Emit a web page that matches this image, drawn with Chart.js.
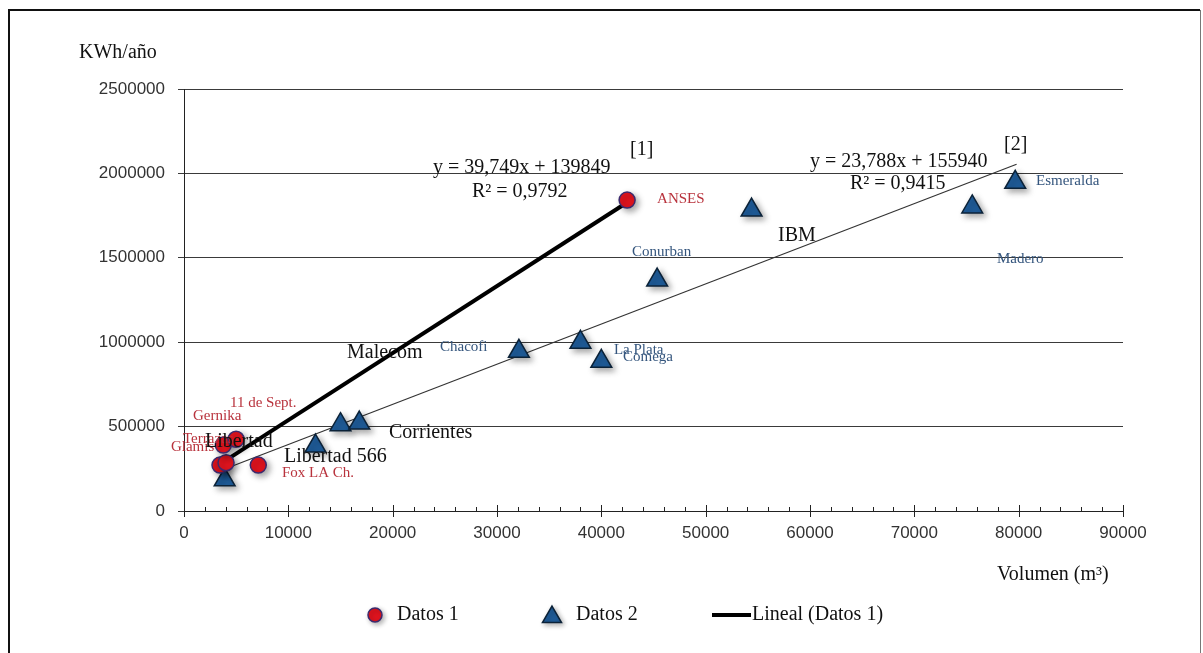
<!DOCTYPE html>
<html>
<head>
<meta charset="utf-8">
<title>KWh/año vs Volumen</title>
<script src="https://cdn.jsdelivr.net/npm/chart.js@4/dist/chart.umd.min.js"></script>
<style>
    body { margin: 0; background: #fff; }
    canvas { display: block; }
</style>
</head>
<body>
<canvas id="myChart" width="1203" height="653"></canvas>
<script>
// datos 1 (circles) and datos 2 (triangles)
const datos1X = [3450, 4030, 3770, 4990, 7120, 42470];
const datos1Y = [272000, 286000, 391000, 425000, 272000, 1842000];

const datos2X = [3900, 12600, 15000, 16800, 32100, 38000, 40000, 45350, 54400, 75550, 79670];
const datos2Y = [185000, 385000, 511000, 521000, 946000, 999000, 887000, 1368000, 1783000, 1801000, 1947000];

// ends of the two trend lines
const lineal1X = [3400, 42500];
const lineal1Y = [276000, 1829000];
const lineal2X = [3900, 79800];
const lineal2Y = [249000, 2054000];

const xTicks = [0, 10000, 20000, 30000, 40000, 50000, 60000, 70000, 80000, 90000];
const yTicks = [0, 500000, 1000000, 1500000, 2000000, 2500000];

// text labels: [text, x, y] in data units
const blackLabels = [
    ["Libertad", 2010, 411000],
    ["Libertad 566", 9580, 323000],
    ["Corrientes", 19650, 465000],
    ["Malecom", 15620, 939000],
    ["IBM", 56930, 1631000],
    ["y = 39,749x + 139849", 23870, 2034000],
    ["R² = 0,9792", 27600, 1892000],
    ["[1]", 42750, 2141000],
    ["y = 23,788x + 155940", 60000, 2069000],
    ["R² = 0,9415", 63830, 1939000],
    ["[2]", 78600, 2170000],
];
const redLabels = [
    ["11 de Sept.", 4410, 642000],
    ["Gernika", 860, 560000],
    ["Terrazas", -100, 429000],
    ["Glamis", -1250, 376000],
    ["Fox LA Ch.", 9390, 222000],
    ["ANSES", 45340, 1850000],
];
const blueLabels = [
    ["Chacofi", 24540, 974000],
    ["La Plata", 41210, 956000],
    ["Comega", 42080, 909000],
    ["Conurban", 42940, 1536000],
    ["Madero", 77920, 1495000],
    ["Esmeralda", 81660, 1957000],
];

const toPoints = (xs, ys) => xs.map((x, i) => ({ x: x, y: ys[i] }));

const serif = "'Liberation Serif', 'Times New Roman', serif";
const sans = "'Liberation Sans', Arial, sans-serif";

const circleFill = "#e0141e";
const circleEdge = "#3b2a6e";
const triFill = "#1f5c99";
const triEdge = "#0b2238";

// drop shadow under the markers only
const shadowPlugin = {
    id: "markerShadow",
    beforeDatasetDraw(chart, args) {
        const ds = chart.data.datasets[args.index];
        if (!ds.shadow) return;
        const ctx = chart.ctx;
        ctx.save();
        ctx.shadowColor = "rgba(0,0,0,0.35)";
        ctx.shadowBlur = 6;
        ctx.shadowOffsetX = 3;
        ctx.shadowOffsetY = 3;
    },
    afterDatasetDraw(chart, args) {
        const ds = chart.data.datasets[args.index];
        if (!ds.shadow) return;
        chart.ctx.restore();
    },
};

const drawTriangle = (ctx, cx, cy, r) => {
    ctx.beginPath();
    for (let k = 0; k < 3; k++) {
        const a = (k * 2 * Math.PI) / 3;
        const px = cx + Math.sin(a) * r;
        const py = cy - Math.cos(a) * r;
        if (k == 0) ctx.moveTo(px, py);
        else ctx.lineTo(px, py);
    }
    ctx.closePath();
};

// x axis tick marks, labels, titles, legend and the frame
const extrasPlugin = {
    id: "extras",
    beforeDraw(chart) {
        const ctx = chart.ctx;
        ctx.save();
        ctx.fillStyle = "#fff";
        ctx.fillRect(0, 0, chart.width, chart.height);
        ctx.strokeStyle = "#111";
        ctx.lineWidth = 2;
        ctx.beginPath();
        ctx.moveTo(9, 660);
        ctx.lineTo(9, 10);
        ctx.lineTo(1200, 10);
        ctx.stroke();
        ctx.strokeStyle = "#777";
        ctx.lineWidth = 1;
        ctx.beginPath();
        ctx.moveTo(1200.5, 10);
        ctx.lineTo(1200.5, 660);
        ctx.stroke();
        ctx.restore();
    },
    afterDraw(chart) {
        const ctx = chart.ctx;
        const xs = chart.scales.x;
        const ys = chart.scales.y;
        const bottom = ys.getPixelForValue(0);
        ctx.save();

        // tick marks on the x axis, minor every 2000
        ctx.strokeStyle = "#222";
        ctx.lineWidth = 1;
        for (let v = 0; v <= 90000; v += 2000) {
            const px = Math.round(xs.getPixelForValue(v)) + 0.5;
            ctx.beginPath();
            if (v % 10000 == 0) {
                ctx.moveTo(px, bottom - 6);
                ctx.lineTo(px, bottom + 6);
            } else {
                ctx.moveTo(px, bottom - 4);
                ctx.lineTo(px, bottom);
            }
            ctx.stroke();
        }

        const writeLabels = (labels, color, size) => {
            ctx.fillStyle = color;
            ctx.font = size + "px " + serif;
            ctx.textAlign = "left";
            ctx.textBaseline = "middle";
            labels.forEach((lab) => {
                ctx.fillText(lab[0], xs.getPixelForValue(lab[1]), ys.getPixelForValue(lab[2]));
            });
        };
        writeLabels(redLabels, "#b8323c", 15);
        writeLabels(blueLabels, "#34557d", 15);
        writeLabels(blackLabels, "#111", 20);

        // axis titles
        ctx.fillStyle = "#111";
        ctx.font = "20px " + serif;
        ctx.textBaseline = "middle";
        ctx.fillText("KWh/año", 79, 53);
        ctx.fillText("Volumen (m³)", 997, 575);

        // legend
        const legY = 615;
        ctx.save();
        ctx.shadowColor = "rgba(0,0,0,0.3)";
        ctx.shadowBlur = 5;
        ctx.shadowOffsetX = 2;
        ctx.shadowOffsetY = 2;
        ctx.beginPath();
        ctx.arc(375, legY, 7, 0, Math.PI * 2);
        ctx.fillStyle = circleFill;
        ctx.fill();
        ctx.lineWidth = 1.5;
        ctx.strokeStyle = circleEdge;
        ctx.stroke();
        drawTriangle(ctx, 552, legY + 2, 11);
        ctx.fillStyle = triFill;
        ctx.fill();
        ctx.strokeStyle = triEdge;
        ctx.stroke();
        ctx.restore();

        ctx.strokeStyle = "#000";
        ctx.lineWidth = 4;
        ctx.beginPath();
        ctx.moveTo(712, legY);
        ctx.lineTo(751, legY);
        ctx.stroke();

        ctx.fillStyle = "#111";
        ctx.font = "20px " + serif;
        ctx.fillText("Datos 1", 397, legY);
        ctx.fillText("Datos 2", 576, legY);
        ctx.fillText("Lineal (Datos 1)", 752, legY);

        ctx.restore();
    },
};

const makeChart = () => {
    const ctx = document.getElementById("myChart").getContext("2d");
    new Chart(ctx, {
        type: "scatter",
        data: {
            datasets: [
                {
                    label: "Datos 1",
                    data: toPoints(datos1X, datos1Y),
                    pointStyle: "circle",
                    pointRadius: 8,
                    pointHoverRadius: 8,
                    backgroundColor: circleFill,
                    borderColor: circleEdge,
                    borderWidth: 1.5,
                    shadow: true,
                    order: 2,
                },
                {
                    label: "Datos 2",
                    data: toPoints(datos2X, datos2Y),
                    pointStyle: "triangle",
                    pointRadius: 12,
                    pointHoverRadius: 12,
                    backgroundColor: triFill,
                    borderColor: triEdge,
                    borderWidth: 1.5,
                    shadow: true,
                    order: 3,
                },
                {
                    label: "Lineal (Datos 1)",
                    type: "line",
                    data: toPoints(lineal1X, lineal1Y),
                    borderColor: "#000",
                    borderWidth: 4,
                    pointRadius: 0,
                    fill: false,
                    order: 4,
                },
                {
                    label: "Lineal (Datos 2)",
                    type: "line",
                    data: toPoints(lineal2X, lineal2Y),
                    borderColor: "#333",
                    borderWidth: 1.2,
                    pointRadius: 0,
                    fill: false,
                    order: 5,
                },
            ],
        },
        options: {
            responsive: false,
            animation: false,
            devicePixelRatio: 1,
            layout: { padding: { top: 89, right: 80, left: 0, bottom: 0 } },
            plugins: {
                legend: { display: false },
                tooltip: { enabled: false },
            },
            scales: {
                x: {
                    type: "linear",
                    min: 0,
                    max: 90000,
                    afterBuildTicks: (scale) => {
                        scale.ticks = xTicks.map((v) => ({ value: v }));
                    },
                    afterFit: (scale) => {
                        scale.height = 142;
                    },
                    grid: { display: false, drawTicks: false },
                    border: { display: true, color: "#222", width: 1 },
                    ticks: {
                        padding: 12,
                        color: "#333",
                        font: { family: sans, size: 17 },
                        maxRotation: 0,
                        callback: (v) => String(v),
                    },
                },
                y: {
                    type: "linear",
                    min: 0,
                    max: 2500000,
                    afterBuildTicks: (scale) => {
                        scale.ticks = yTicks.map((v) => ({ value: v }));
                    },
                    afterFit: (scale) => {
                        scale.width = 184;
                    },
                    grid: {
                        color: "#3a3a3a",
                        lineWidth: 1,
                        drawTicks: true,
                        tickLength: 6,
                    },
                    border: { display: true, color: "#222", width: 1 },
                    ticks: {
                        padding: 13,
                        color: "#333",
                        font: { family: sans, size: 17 },
                        callback: (v) => String(v),
                    },
                },
            },
        },
        plugins: [shadowPlugin, extrasPlugin],
    });
};

makeChart();
</script>
</body>
</html>
